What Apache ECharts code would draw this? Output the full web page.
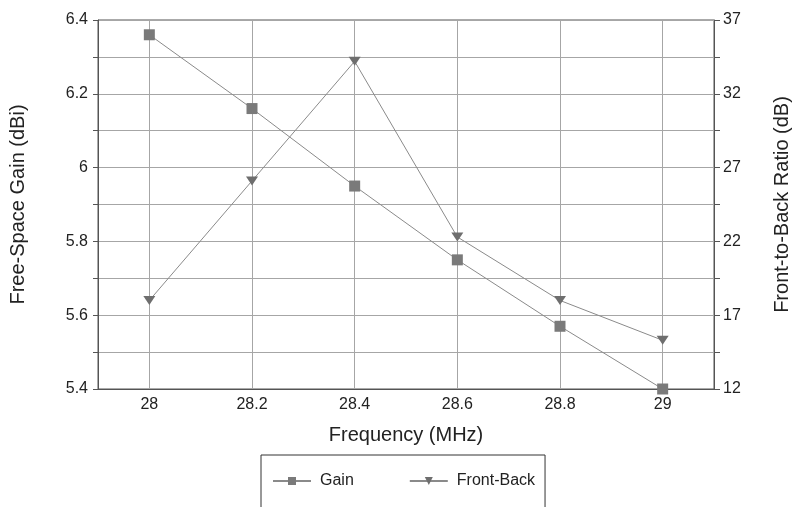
<!DOCTYPE html>
<html>
<head>
<meta charset="utf-8">
<script src="https://cdn.jsdelivr.net/npm/echarts@6/dist/echarts.min.js"></script>
<style>
  html, body { margin: 0; padding: 0; background: #fff; }
  #chart { width: 792px; height: 507px; }
</style>
</head>
<body>
<div id="chart"></div>
<script>
// frequency steps (MHz)
const frequencies = ['28', '28.2', '28.4', '28.6', '28.8', '29']
// free-space gain, dBi (left axis)
const gainValues = [6.36, 6.16, 5.95, 5.75, 5.57, 5.40]
// front-to-back ratio, dB (right axis)
const frontBackValues = [18.0, 26.1, 34.2, 22.3, 18.0, 15.3]

const font = 'Arial, "Liberation Sans", sans-serif'
const gridColor = '#a6a6a6'
const axisColor = '#555'
const textColor = '#222'

let myChart = echarts.init(document.getElementById('chart'))
myChart.setOption({
    animation: false,
    textStyle: { fontFamily: font },
    grid: {
        left: 98,
        right: 78,
        top: 20,
        bottom: 118,
        containLabel: false,
        outerBoundsMode: 'none',
        show: true,
        borderColor: axisColor,
        borderWidth: 1
    },
    legend: {
        data: ['Gain', 'Front-Back'],
        left: 261,
        top: 455,
        padding: [18, 10, 40, 11],
        itemWidth: 38,
        itemHeight: 10,
        itemGap: 55,
        borderColor: '#333',
        borderWidth: 1,
        textStyle: { fontSize: 16, color: textColor, fontFamily: font, padding: [0, 0, 0, 4] }
    },
    xAxis: {
        type: 'category',
        data: frequencies,
        boundaryGap: true,
        name: 'Frequency (MHz)',
        nameLocation: 'middle',
        nameGap: 36,
        nameTextStyle: { fontSize: 20, color: textColor },
        axisLine: { lineStyle: { color: axisColor } },
        axisTick: { show: false },
        axisLabel: { fontSize: 16, color: textColor, margin: 8 },
        splitLine: {
            show: true,
            alignWithLabel: true,
            lineStyle: { color: gridColor }
        }
    },
    yAxis: [
        {
            type: 'value',
            min: 5.4,
            max: 6.4,
            interval: 0.2,
            name: 'Free-Space Gain (dBi)',
            nameLocation: 'middle',
            nameGap: 70,
            nameTextStyle: { fontSize: 20, color: textColor },
            axisLine: { show: true, lineStyle: { color: axisColor } },
            axisTick: { show: true, length: 5, lineStyle: { color: axisColor } },
            minorTick: { show: true, splitNumber: 2, length: 5, lineStyle: { color: axisColor } },
            axisLabel: { fontSize: 16, color: textColor, margin: 10 },
            splitLine: { show: true, lineStyle: { color: gridColor } },
            minorSplitLine: { show: true, lineStyle: { color: gridColor } }
        },
        {
            type: 'value',
            min: 12,
            max: 37,
            interval: 5,
            position: 'right',
            name: 'Front-to-Back Ratio (dB)',
            nameLocation: 'middle',
            nameGap: 58,
            nameRotate: 90,
            nameTextStyle: { fontSize: 20, color: textColor },
            axisLine: { show: true, lineStyle: { color: axisColor } },
            axisTick: { show: true, length: 6, lineStyle: { color: axisColor } },
            minorTick: { show: true, splitNumber: 2, length: 6, lineStyle: { color: axisColor } },
            axisLabel: { fontSize: 16, color: textColor, margin: 9 },
            splitLine: { show: false }
        }
    ],
    series: [
        {
            name: 'Gain',
            type: 'line',
            yAxisIndex: 0,
            data: gainValues,
            symbol: 'rect',
            symbolSize: 11,
            lineStyle: { color: '#8a8a8a', width: 1 },
            itemStyle: { color: '#7a7a7a' }
        },
        {
            name: 'Front-Back',
            type: 'line',
            yAxisIndex: 1,
            data: frontBackValues,
            symbol: 'triangle',
            symbolRotate: 180,
            symbolSize: [12, 9],
            lineStyle: { color: '#8a8a8a', width: 1 },
            itemStyle: { color: '#6e6e6e' }
        }
    ]
})
window.addEventListener('resize', function() {
    myChart.resize()
})
</script>
</body>
</html>
